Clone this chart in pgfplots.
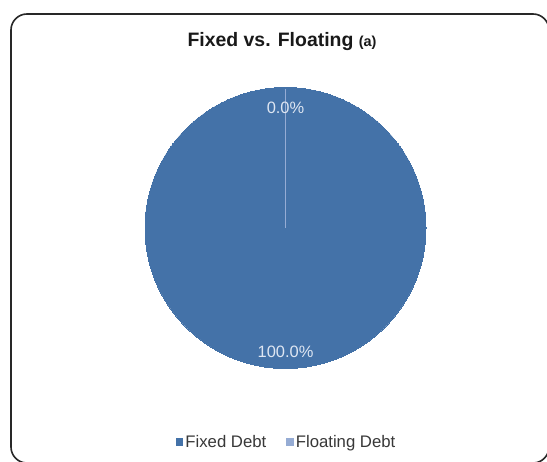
\documentclass[border=0pt]{standalone}
\usepackage{fontspec}
\setmainfont{Liberation Sans}
\usepackage{pgfplots}
\pgfplotsset{compat=1.18}
\definecolor{fixedc}{RGB}{68,114,168}
\definecolor{floatc}{RGB}{150,172,212}
\definecolor{lblc}{RGB}{222,230,242}
\definecolor{framec}{RGB}{40,40,40}
\begin{document}
\begin{tikzpicture}
\useasboundingbox (0bp,0bp) rectangle (547bp,462bp);
\begin{scope}
\clip (0bp,0bp) rectangle (547bp,462bp);
\fill[white] (0bp,0bp) rectangle (547bp,462bp);
\draw[line width=1.6bp, framec, rounded corners=16bp] (11bp,448bp) rectangle (549bp,-1bp);
\end{scope}
\begin{axis}[at={(0bp,0bp)}, anchor=origin, x=1bp, y=1bp,
  xmin=0, xmax=547, ymin=0, ymax=462, hide axis, clip=false,
  clip marker paths=true,
  legend columns=2,
  legend style={at={(0.524,0.0433)}, anchor=center, draw=none, fill=none,
    font=\fontsize{16.8}{19}\selectfont, text=black!78,
    /tikz/every even column/.append style={column sep=18bp},
    inner sep=0pt, row sep=0pt},
  legend image code/.code={\fill[#1, draw=none] (0bp,-4bp) rectangle (7.5bp,3.5bp);},
  legend cell align=left]
\addlegendimage{fill=fixedc}
\addlegendentry{Fixed Debt}
\addlegendimage{fill=floatc}
\addlegendentry{Floating Debt}
% Fixed Debt: 100.0% -> full disc
\addplot[forget plot, color=fixedc, only marks, mark=*, mark size=140.5bp,
  mark options={fill=fixedc, draw=fixedc, line width=0pt}] coordinates {(285.5,234)};
% Floating Debt: 0.0% -> zero-width slice at 90 degrees
\addplot[forget plot, floatc, line width=0.8bp] coordinates {(285.5,234) (285.5,373)};
\node[text=lblc, font=\fontsize{16.5}{19}\selectfont] at (axis cs:285.5,354) {0.0\%};
\node[text=lblc, font=\fontsize{16.5}{19}\selectfont] at (axis cs:285.5,110) {100.0\%};
\node[font=\bfseries\fontsize{19.5}{23}\selectfont, text=black!90] at (axis cs:282,420)
  {Fixed vs. Floating {\fontsize{14.5}{16}\selectfont (a)}};
\end{axis}
\end{tikzpicture}
\end{document}
